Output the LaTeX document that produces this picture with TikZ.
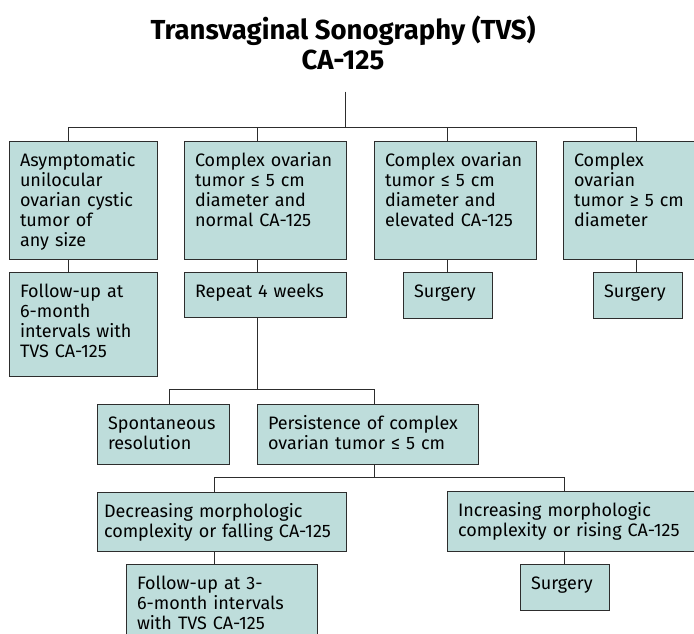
\documentclass[tikz,border=0pt]{standalone}
\usepackage{fontspec}
\setmainfont{Fira Sans}
\usepackage{tikz}

\definecolor{boxfill}{RGB}{190,221,219}
\definecolor{boxline}{RGB}{45,45,45}

\newcommand\tboxfont{\fontsize{18}{20}\selectfont\hyphenpenalty 10000\relax}

\tikzset{
  tbox/.style={draw=boxline, line width=1pt, fill=boxfill, anchor=north west,
    inner xsep=11pt, inner ysep=0pt, outer sep=0pt, align=left,
    text height=25pt, font=\tboxfont},
  link/.style={draw=boxline, line width=1pt}
}

\begin{document}
\begin{tikzpicture}[x=1pt,y=-1pt]

\useasboundingbox (0,0) rectangle (694,634);
\clip (0,0) rectangle (694,634);

\node[font=\bfseries\fontsize{27.5}{30}\selectfont, align=center, anchor=base,
  inner ysep=21pt] (title) at (343,70)
  {Transvaginal Sonography (TVS)\\CA-125};

% first row
\node[tbox, text width=126pt, text depth=93pt] (asym) at (9,141)
  {Asymptomatic\\unilocular\\ovarian cystic\\tumor of\\any size};
\node[tbox, text width=140pt, text depth=93pt] (small) at (184,141)
  {Complex ovarian\\tumor ≤ 5 cm\\diameter and\\normal CA-125};
\node[tbox, text width=140pt, text depth=93pt] (elev) at (374,141)
  {Complex ovarian\\tumor ≤ 5 cm\\diameter and\\elevated CA-125};
\node[tbox, text width=128pt, text depth=93pt] (large) at (563,141)
  {Complex\\ovarian\\tumor ≥ 5 cm\\diameter};

% second row
\node[tbox, text width=126pt, text depth=79pt] (fol) at (9,272)
  {Follow-up at\\6-month\\intervals with\\TVS CA-125};
\node[tbox, text width=140pt, text depth=20pt] (rep) at (184,272) {Repeat 4 weeks};
\node[tbox, text width=67pt, text depth=21pt] (surA) at (403,272) {Surgery};
\node[tbox, text width=67pt, text depth=21pt] (surB) at (593,272) {Surgery};

% after four weeks
\node[tbox, text width=110pt, text depth=35pt] (spon) at (97,404)
  {Spontaneous\\resolution};
\node[tbox, text width=199pt, text depth=35pt] (pers) at (257,404)
  {Persistence of complex\\ovarian tumor ≤ 5 cm};
\node[tbox, inner xsep=7pt, text width=235pt, text depth=34pt] (dec) at (97,492)
  {Decreasing morphologic\\complexity or falling CA-125};
\node[tbox, text width=226pt, text depth=35pt] (inc) at (447,491)
  {Increasing morphologic\\complexity or rising CA-125};
\node[tbox, text width=169pt, text depth=55pt] (folB) at (126,564)
  {Follow-up at 3-\\6-month intervals\\with TVS CA-125};
\node[tbox, text width=67pt, text depth=21pt] (surC) at (520,564) {Surgery};

% connectors
\coordinate (top) at (345,127);
\coordinate (c1) at (68,127);
\coordinate (c2) at (257,127);
\coordinate (c3) at (447,127);
\coordinate (c4) at (636,127);
\draw[link] (title.south -| top) -- (top);
\draw[link] (c1) -- (c4);
\foreach \c/\a/\b in {c1/asym/fol, c2/small/rep, c3/elev/surA, c4/large/surB} {
  \draw[link] (\c) -- (\c |- \a.north);
  \draw[link] (\a.south -| \c) -- (\b.north -| \c);
}

\coordinate (r) at (257,389);
\coordinate (r1) at (169,389);
\coordinate (r2) at (374,389);
\draw[link] (rep.south -| r) -- (r);
\draw[link] (r1) -- (r2);
\draw[link] (r1) -- (r1 |- spon.north);
\draw[link] (r2) -- (r2 |- pers.north);

\coordinate (p) at (374,477);
\coordinate (p1) at (214,477);
\coordinate (p2) at (564,477);
\draw[link] (pers.south -| p) -- (p);
\draw[link] (p1) -- (p2);
\draw[link] (p1) -- (p1 |- dec.north);
\draw[link] (p2) -- (p2 |- inc.north);
\draw[link] (dec.south -| p1) -- (folB.north -| p1);
\draw[link] (inc.south -| p2) -- (surC.north -| p2);

\end{tikzpicture}
\end{document}
